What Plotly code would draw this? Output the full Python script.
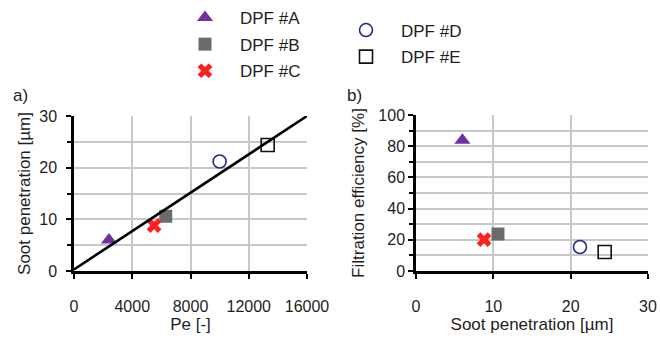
import plotly.graph_objects as go

# Filter data
filters = ["DPF #A", "DPF #B", "DPF #C", "DPF #D", "DPF #E"]
peclet = [2400, 6300, 5500, 10000, 13300]
soot_penetration = [6.0, 10.6, 8.8, 21.2, 24.4]
filtration_eff = [83.8, 23.7, 20.1, 15.4, 12.2]

# Linear fit of soot penetration vs Pe
fit_pe = [0, 16000]
fit_pen = [0.3, 30.0]

symbols = ["triangle-up", "square", "x", "circle-open", "square-open"]
colors = ["#7030A0", "#6B6B6B", "#FF1F1F", "#1F2A8C", "#111111"]
sizes = [14, 13, 13, 13, 13]
line_w = [0, 0, 0, 1.6, 1.6]
legend_ids = ["legend", "legend", "legend", "legend2", "legend2"]

FONT = "Liberation Sans, Arial, sans-serif"
TXT = "#1E1E1E"
W, H = 660, 342

fig = go.Figure()

for i, name in enumerate(filters):
    marker = dict(symbol=symbols[i], color=colors[i], size=sizes[i],
                  line=dict(width=line_w[i], color=colors[i]))
    fig.add_trace(go.Scatter(
        x=[peclet[i]], y=[soot_penetration[i]], mode="markers", name=name,
        marker=marker, xaxis="x", yaxis="y", legend=legend_ids[i],
        legendgroup=name, showlegend=True))
    fig.add_trace(go.Scatter(
        x=[soot_penetration[i]], y=[filtration_eff[i]], mode="markers", name=name,
        marker=marker, xaxis="x2", yaxis="y2", legendgroup=name,
        showlegend=False))

fig.add_trace(go.Scatter(
    x=fit_pe, y=fit_pen, mode="lines", line=dict(color="black", width=2.6),
    xaxis="x", yaxis="y", showlegend=False))

grid = "#C8C8C8"
axis_common = dict(
    showline=True, linecolor="black", linewidth=2.5, mirror=False,
    ticks="outside", ticklen=5, tickwidth=2, tickcolor="black",
    showgrid=True, gridcolor=grid, gridwidth=1.6, zeroline=False,
    automargin=False,
    tickfont=dict(family=FONT, size=16, color=TXT),
    title_font=dict(family=FONT, size=17, color=TXT),
)

def px_x(p):
    return p / W

def px_y(p):
    return 1 - p / H

legend_font = dict(family=FONT, size=17, color=TXT)

fig.update_layout(
    width=W, height=H,
    margin=dict(l=0, r=0, t=0, b=0, autoexpand=False),
    paper_bgcolor="white", plot_bgcolor="white",
    font=dict(family=FONT, size=16, color=TXT),
    xaxis=dict(domain=[px_x(74), px_x(307)], range=[0, 16000], dtick=4000,
               tickformat="d", anchor="y", ticklabelstandoff=14,
               title=dict(text="Pe [-]", standoff=4), **axis_common),
    yaxis=dict(domain=[px_y(271), px_y(116)], range=[0, 30], dtick=10,
               anchor="x", ticklabelstandoff=6,
               minor=dict(dtick=5, showgrid=True, gridcolor=grid, gridwidth=1.6,
                          ticks="outside", ticklen=4, tickwidth=1.5, tickcolor="black"),
               title=dict(text="Soot penetration [µm]", standoff=5), **axis_common),
    xaxis2=dict(domain=[px_x(416), px_x(648)], range=[0, 30], dtick=10,
                anchor="y2", ticklabelstandoff=14,
                title=dict(text="Soot penetration [µm]", standoff=4), **axis_common),
    yaxis2=dict(domain=[px_y(271), px_y(115)], range=[0, 100], dtick=20,
                anchor="x2", ticklabelstandoff=0,
                minor=dict(dtick=10, showgrid=True, gridcolor=grid, gridwidth=1.6,
                           ticks="outside", ticklen=4, tickwidth=1.5, tickcolor="black"),
                title=dict(text="Filtration efficiency [%]", standoff=10), **axis_common),
    legend=dict(x=px_x(170), y=px_y(0),
                xanchor="left", yanchor="top", itemwidth=60, tracegroupgap=1.5,
                font=legend_font, bgcolor="rgba(0,0,0,0)"),
    legend2=dict(x=px_x(331), y=px_y(12.5),
                 xanchor="left", yanchor="top", itemwidth=60, tracegroupgap=1.5,
                 font=legend_font, bgcolor="rgba(0,0,0,0)"),
    annotations=[
        dict(text="a)", xref="paper", yref="paper", x=px_x(11), y=px_y(95),
             xanchor="left", yanchor="middle", showarrow=False,
             font=dict(family=FONT, size=17, color=TXT)),
        dict(text="b)", xref="paper", yref="paper", x=px_x(345), y=px_y(95),
             xanchor="left", yanchor="middle", showarrow=False,
             font=dict(family=FONT, size=17, color=TXT)),
    ],
)

fig.write_html("out.html")
